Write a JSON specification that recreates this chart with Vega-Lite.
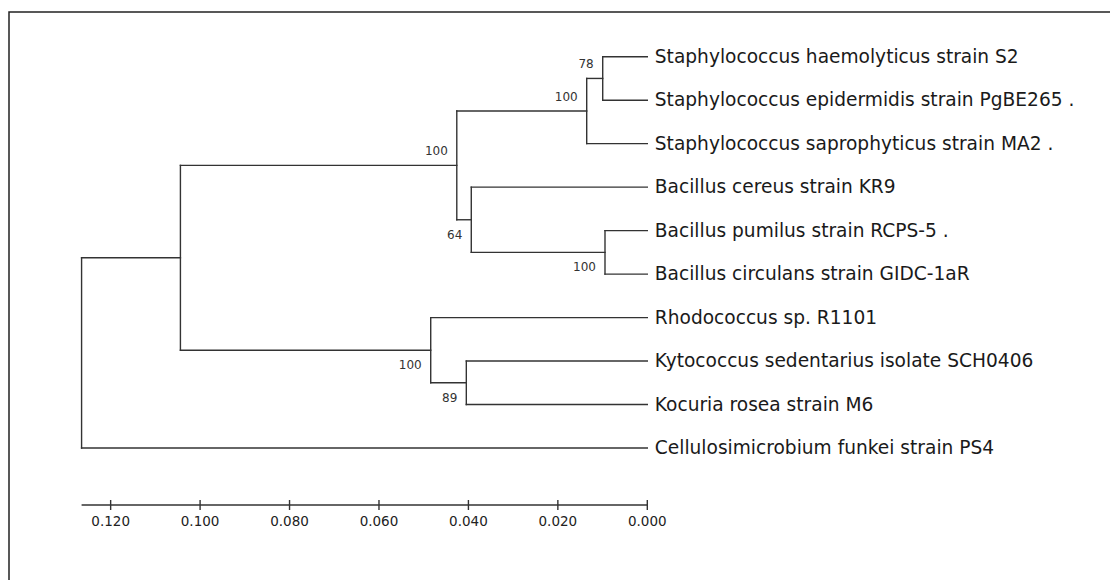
{
  "$schema": "https://vega.github.io/schema/vega-lite/v6.json",
  "width": 1103,
  "height": 570,
  "autosize": {"type": "none"},
  "padding": {"left": 9, "top": 12, "right": -2, "bottom": -2},
  "background": "white",
  "config": {"view": {"stroke": "#222", "strokeWidth": 1.5}},
  "datasets": {
    "branches": [
      {"d1": 0.00997, "d2": 0, "r1": 0, "r2": 0},
      {"d1": 0.00997, "d2": 0, "r1": 1, "r2": 1},
      {"d1": 0.01355, "d2": 0.00997, "r1": 0.5, "r2": 0.5},
      {"d1": 0.01355, "d2": 0, "r1": 2, "r2": 2},
      {"d1": 0.0426, "d2": 0.01355, "r1": 1.25, "r2": 1.25},
      {"d1": 0.03936, "d2": 0, "r1": 3, "r2": 3},
      {"d1": 0.00946, "d2": 0, "r1": 4, "r2": 4},
      {"d1": 0.00946, "d2": 0, "r1": 5, "r2": 5},
      {"d1": 0.03936, "d2": 0.00946, "r1": 4.5, "r2": 4.5},
      {"d1": 0.0426, "d2": 0.03936, "r1": 3.75, "r2": 3.75},
      {"d1": 0.1044, "d2": 0.0426, "r1": 2.5, "r2": 2.5},
      {"d1": 0.04843, "d2": 0, "r1": 6, "r2": 6},
      {"d1": 0.04047, "d2": 0, "r1": 7, "r2": 7},
      {"d1": 0.04047, "d2": 0, "r1": 8, "r2": 8},
      {"d1": 0.04843, "d2": 0.04047, "r1": 7.5, "r2": 7.5},
      {"d1": 0.1044, "d2": 0.04843, "r1": 6.75, "r2": 6.75},
      {"d1": 0.1265, "d2": 0.1044, "r1": 4.625, "r2": 4.625},
      {"d1": 0.1265, "d2": 0, "r1": 9, "r2": 9},
      {"d1": 0.00997, "d2": 0.00997, "r1": 0, "r2": 1},
      {"d1": 0.01355, "d2": 0.01355, "r1": 0.5, "r2": 2},
      {"d1": 0.00946, "d2": 0.00946, "r1": 4, "r2": 5},
      {"d1": 0.03936, "d2": 0.03936, "r1": 3, "r2": 4.5},
      {"d1": 0.0426, "d2": 0.0426, "r1": 1.25, "r2": 3.75},
      {"d1": 0.04047, "d2": 0.04047, "r1": 7, "r2": 8},
      {"d1": 0.04843, "d2": 0.04843, "r1": 6, "r2": 7.5},
      {"d1": 0.1044, "d2": 0.1044, "r1": 2.5, "r2": 6.75},
      {"d1": 0.1265, "d2": 0.1265, "r1": 4.625, "r2": 9}
    ],
    "leaves": [
      {"d": 0, "r": 0, "name": "Staphylococcus haemolyticus strain S2"},
      {"d": 0, "r": 1, "name": "Staphylococcus epidermidis strain PgBE265 ."},
      {"d": 0, "r": 2, "name": "Staphylococcus saprophyticus strain MA2 ."},
      {"d": 0, "r": 3, "name": "Bacillus cereus strain KR9"},
      {"d": 0, "r": 4, "name": "Bacillus pumilus strain RCPS-5 ."},
      {"d": 0, "r": 5, "name": "Bacillus circulans strain GIDC-1aR"},
      {"d": 0, "r": 6, "name": "Rhodococcus sp. R1101"},
      {"d": 0, "r": 7, "name": "Kytococcus sedentarius isolate SCH0406"},
      {"d": 0, "r": 8, "name": "Kocuria rosea strain M6"},
      {"d": 0, "r": 9, "name": "Cellulosimicrobium funkei strain PS4"}
    ],
    "support": [
      {"d": 0.00997, "r": 0.5, "v": "78", "pos": "above"},
      {"d": 0.01355, "r": 1.25, "v": "100", "pos": "above"},
      {"d": 0.0426, "r": 2.5, "v": "100", "pos": "above"},
      {"d": 0.03936, "r": 3.75, "v": "64", "pos": "below"},
      {"d": 0.00946, "r": 4.5, "v": "100", "pos": "below"},
      {"d": 0.04843, "r": 6.75, "v": "100", "pos": "below"},
      {"d": 0.04047, "r": 7.5, "v": "89", "pos": "below"}
    ],
    "bar": [{"from": 0.1265, "to": 0}],
    "ticks": [
      {"t": 0.12}, {"t": 0.1}, {"t": 0.08}, {"t": 0.06}, {"t": 0.04}, {"t": 0.02}, {"t": 0}
    ]
  },
  "layer": [
    {
      "data": {"name": "branches"},
      "mark": {"type": "rule", "color": "#333", "strokeWidth": 1.4, "strokeCap": "square"},
      "encoding": {
        "x": {"field": "d1", "type": "quantitative", "axis": null, "scale": {"domain": [-0.10391, 0.14273], "reverse": true, "nice": false, "zero": false}},
        "x2": {"field": "d2"},
        "y": {"field": "r1", "type": "quantitative", "axis": null, "scale": {"domain": [-1.028, 12.081], "reverse": true, "nice": false, "zero": false}},
        "y2": {"field": "r2"}
      }
    },
    {
      "data": {"name": "leaves"},
      "mark": {"type": "text", "align": "left", "baseline": "middle", "dx": 7.5, "font": "DejaVu Sans", "fontSize": 18.6, "color": "#1a1a1a"},
      "encoding": {
        "x": {"field": "d", "type": "quantitative"},
        "y": {"field": "r", "type": "quantitative"},
        "text": {"field": "name"}
      }
    },
    {
      "data": {"name": "support"},
      "transform": [{"filter": "datum.pos === 'above'"}],
      "mark": {"type": "text", "align": "right", "baseline": "middle", "dx": -9, "dy": -14.5, "font": "DejaVu Sans", "fontSize": 12, "color": "#333"},
      "encoding": {
        "x": {"field": "d", "type": "quantitative"},
        "y": {"field": "r", "type": "quantitative"},
        "text": {"field": "v"}
      }
    },
    {
      "data": {"name": "support"},
      "transform": [{"filter": "datum.pos === 'below'"}],
      "mark": {"type": "text", "align": "right", "baseline": "middle", "dx": -9, "dy": 15, "font": "DejaVu Sans", "fontSize": 12, "color": "#333"},
      "encoding": {
        "x": {"field": "d", "type": "quantitative"},
        "y": {"field": "r", "type": "quantitative"},
        "text": {"field": "v"}
      }
    },
    {
      "data": {"name": "bar"},
      "mark": {"type": "rule", "color": "#333", "strokeWidth": 1.4},
      "encoding": {
        "x": {"field": "from", "type": "quantitative"},
        "x2": {"field": "to"},
        "y": {"datum": 10.31}
      }
    },
    {
      "data": {"name": "ticks"},
      "mark": {"type": "rule", "color": "#333", "strokeWidth": 1.4},
      "encoding": {
        "x": {"field": "t", "type": "quantitative"},
        "y": {"datum": 10.195},
        "y2": {"datum": 10.425}
      }
    },
    {
      "data": {"name": "ticks"},
      "mark": {"type": "text", "align": "center", "baseline": "middle", "dy": 17, "font": "DejaVu Sans", "fontSize": 13.5, "color": "#222"},
      "encoding": {
        "x": {"field": "t", "type": "quantitative"},
        "y": {"datum": 10.31},
        "text": {"field": "t", "type": "quantitative", "format": ".3f"}
      }
    }
  ]
}
